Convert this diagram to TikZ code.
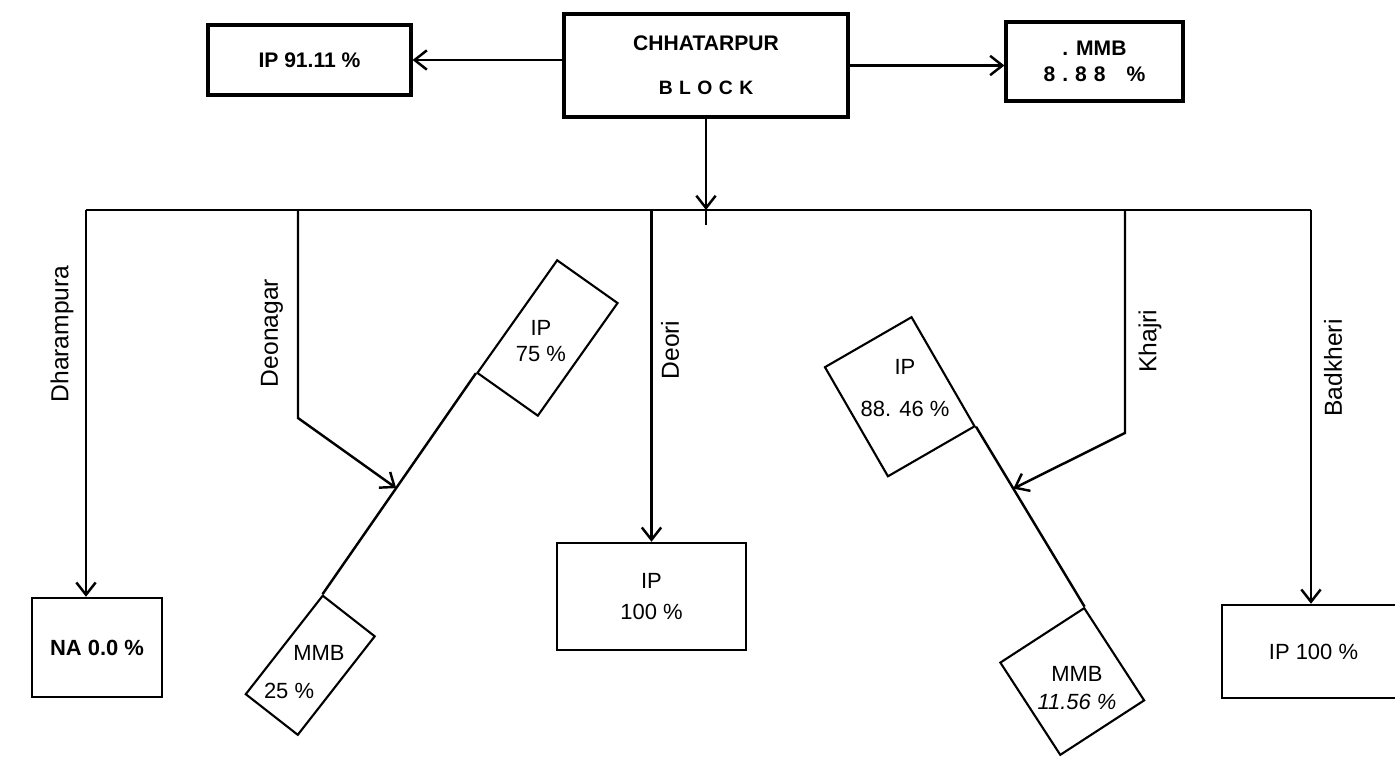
\documentclass[tikz,border=0pt]{standalone}
\usepackage{fontspec}
\setmainfont{Liberation Sans}
\usetikzlibrary{arrows.meta,calc,positioning}

\begin{document}
\begin{tikzpicture}[
    >={Straight Barb[length=7pt,width=11pt]},
    line width=1.4pt,
    topbox/.style={draw, line width=1.8pt, align=center, inner sep=0pt, font=\fontsize{12}{14}\selectfont\bfseries},
    endbox/.style={draw, line width=1.4pt, align=center, inner sep=0pt, font=\fontsize{12.5}{15}\selectfont},
    tiltbox/.style={draw, line width=1.2pt, inner sep=0pt},
    tilttext/.style={align=center, font=\fontsize{12.5}{15}\selectfont},
    village/.style={rotate=90, font=\fontsize{14}{16}\selectfont}
]
    % Page frame
    \useasboundingbox (0,0) rectangle (27.9,15.24);

    % Block and its two shares
    \node[topbox, minimum width=5.68cm, minimum height=2.06cm] (block) at (14.12,13.93)
        {CHHATARPUR\\[11pt]{\fontsize{11}{13}\selectfont B\,\,L\,\,O\,\,C\,\,K}};
    \node[topbox, minimum width=4.06cm, minimum height=1.40cm] (blockip) at (6.19,14.04) {IP 91.11 \%};
    \node[topbox, minimum width=3.54cm, minimum height=1.58cm] (blockmmb) at (21.89,14.01)
        {. MMB\\[1pt]8\hspace{4pt}.\hspace{4pt}8\hspace{4pt}8\hspace{12pt}\%};

    \draw[->] (block.west |- blockip.east) -- (blockip.east);
    \draw[->] (block.east) -- (block.east -| blockmmb.west);

    % Bus to the villages
    \coordinate (busl) at (1.72,11.04);
    \coordinate (busr) at (26.22,11.04);
    \coordinate (busc) at (block.south |- busl);
    \draw (busl) -- (busr);
    \draw[->] (block.south) -- (busc);
    \draw (busc) -- ++(0,-0.3);

    % Village names
    \node[village] (dharlbl) at (1.24,8.56) {Dharampura};
    \node[village] (deonlbl) at (5.44,8.58) {Deonagar};
    \node[village] (deorilbl) at (13.4,8.24) {Deori};
    \node[village] (khajlbl) at (23.0,8.42) {Khajri};
    \node[village] (badlbl) at (26.66,7.88) {Badkheri};

    % Single share villages
    \node[endbox, font=\fontsize{12.5}{15}\selectfont\bfseries, minimum width=2.6cm, minimum height=1.98cm] (dharna) at (1.94,2.29) {NA 0.0 \%};
    \node[endbox, minimum width=3.78cm, minimum height=2.14cm] (deoriip) at (13.03,3.31) {IP\\[3pt]100 \%};
    \node[endbox, minimum width=3.66cm, minimum height=1.86cm] (badip) at (26.27,2.21) {IP 100 \%};

    \draw[->] (busl) -- (busl |- dharna.north);
    \draw[->] (deoriip.north |- busl) -- (deoriip.north);
    \draw[->] (busr) -- (busr |- badip.north);

    % Tilted boxes for split villages
    \node[tiltbox, rotate=54.7, minimum width=2.76cm, minimum height=1.48cm] (deonip) at (10.95,8.48) {};
    \node[tiltbox, rotate=52, minimum width=2.5cm, minimum height=1.32cm] (deonmmb) at (6.205,1.935) {};
    \node[tiltbox, rotate=-60, minimum width=2.52cm, minimum height=2.0cm] (khajip) at (17.995,7.305) {};
    \node[tiltbox, rotate=-57, minimum width=2.2cm, minimum height=2.0cm] (khajmmb) at (21.445,1.61) {};

    \node[tilttext] (deoniptext) at (10.82,8.42) {IP\\75 \%};
    \node[tilttext] (deonmmbtext) at (6.08,1.8)
        {\hspace*{17pt}MMB\\[7pt]25 \%\hspace*{17pt}};
    \node[tilttext] (khajiptext) at (18.1,7.48) {IP\\[9pt]88. 46 \%};
    \node[tilttext] (khajmmbtext) at (21.54,1.48) {MMB\\[1pt]\textit{11.56 \%}};

    % Deonagar split
    \draw (deonmmb.north east) -- (deonip.north west);
    \coordinate (deonhit) at ($(deonmmb.north east)!0.48!(deonip.north west)$);
    \coordinate (deonbend) at (5.96,6.88);
    \draw[->] (deonbend |- busl) -- (deonbend) -- (deonhit);

    % Khajri split
    \draw (khajip.north east) -- (khajmmb.north west);
    \coordinate (khajhit) at ($(khajip.north east)!0.344!(khajmmb.north west)$);
    \coordinate (khajbend) at (22.5,6.58);
    \draw[->] (khajbend |- busl) -- (khajbend) -- (khajhit);
\end{tikzpicture}
\end{document}
